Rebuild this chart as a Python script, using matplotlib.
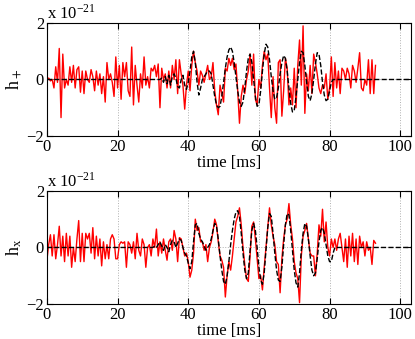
import numpy as np
import matplotlib
matplotlib.use('Agg')
import matplotlib.pyplot as plt

# sampling step of the traces, in ms
dt = 0.5

# noisy strain, h+ (units of 1e-21), from t = 0 ms
hp_noisy = [
    0.0, 0.05, -0.05, 0.0, -0.3, 0.45, -0.1, 1.1, -1.35, 0.9,
    -0.3, 0.0, -0.2, 0.45, -0.1, 0.5, -0.3, 0.35, 0.45, -0.45,
    0.3, -0.5, 0.3, 0.0, -0.1, 0.35, 0.1, -0.4, 0.3, -0.2,
    0.2, -0.5, 0.1, -0.8, 0.6, 0.0, 0.2, -0.1, -0.6, 0.8,
    -0.3, 0.5, -0.7, 0.6, 0.1, 0.6, -0.4, -0.6, 1.15, -0.9,
    0.5, -0.2, -0.8, 0.2, -0.3, 0.8, -0.2, 0.1, -0.3, 0.4,
    0.3, 0.5, 0.1, 0.55, -1.0, 0.4, 0.0, 0.2, -0.3, 0.3,
    -0.3, 0.5, 0.0, 0.7, -0.5, 0.7, 0.2, -0.2, -1.05, -0.2,
    0.3, -0.4, 0.5, 1.0, 0.6, 0.3, -0.2, 0.3, 0.15, -0.1,
    0.2, 0.5, 0.0, 0.1, 0.6, -0.4, -0.9, -1.25, -0.2, -0.5,
    -0.8, 0.4, 0.3, 0.75, 0.5, 0.75, 0.35, 0.55, -0.4, -1.55,
    -0.6, -0.2, -0.5, 0.0, 0.3, 0.9, -0.2, 0.9, -0.7, -0.9,
    0.0, -0.3, 0.5, 1.0, 0.7, 0.9, -0.3, -1.35, 0.1, -1.0,
    -1.55, 0.6, 0.7, -1.3, -0.4, 0.75, 0.4, -0.9, -0.3, -0.9,
    0.4, -1.0, 0.5, 1.4, -0.2, 1.9, -1.2, 0.2, -0.4, 0.5,
    -0.5, 0.9, 0.6, 0.2, -0.3, -0.5, -0.2, -0.3, 0.2, -0.7,
    -0.3, 0.8, -0.6, 0.6, -0.3, 0.3, -0.5, 0.4, 0.3, 0.0,
    0.4, 0.2, -0.3, 0.5, 0.3, -0.1, 0.4, 0.95, -0.3, -0.4,
    0.0, -0.2, 0.7, -0.5, 0.7, -0.5, 0.5,
]

# noisy strain, hx
hx_noisy = [
    -0.45, 0.1, 0.45, -0.3, 0.45, -0.4, 0.1, 0.75, -0.3, 0.4,
    -0.5, 0.5, -0.3, 0.4, -0.7, 0.0, -0.5, 0.3, 0.95, -0.5,
    0.5, -0.5, 0.5, 0.3, 0.5, -0.2, 0.7, -0.4, 0.4, -0.3,
    0.3, -0.65, 0.2, -0.4, 0.1, -0.4, 0.3, 0.45, 0.3, -0.4,
    -0.4, 0.1, 0.2, 0.15, 0.2, -0.7, 0.2, 0.1, -0.2, 0.2,
    -0.4, 0.5, -0.1, -0.3, 0.3, 0.1, -0.7, 0.0, 0.1, -0.3,
    0.3, 0.0, 0.65, -0.3, 0.2, -0.2, 0.3, -0.1, -0.45, 0.2,
    0.3, -0.1, 0.6, 0.3, -0.5, 0.35, 0.3, 0.0, -0.3, -0.2,
    -0.5, -1.05, -0.8, -0.2, 1.0, 0.6, 0.7, 0.2, 0.2, -0.1,
    0.1, -0.5, 0.0, 0.2, 0.55, 1.0, 0.8, 0.2, -0.3, -0.45,
    -0.7, -1.75, -1.0, -0.5, -0.8, -0.3, 0.3, 0.9, 1.1, 1.4,
    0.8, 0.0, -0.6, -1.1, -1.2, -0.3, 0.75, 0.9, 0.3, -0.4,
    -1.1, -1.0, -1.5, -0.7, 0.0, 0.7, 1.4, 0.8, 0.4, 0.1,
    -0.5, -0.6, -1.6, -0.4, 0.3, 0.8, 1.0, 1.55, 0.8, 0.3,
    -0.5, -0.9, -1.1, -1.95, -0.3, 0.4, 0.6, 0.85, 0.3, -0.2,
    -0.3, -0.3, -1.0, -0.2, 0.8, 0.4, 1.35, 0.2, 0.9, 0.0,
    -0.3, 0.3, 0.0, 0.3, -0.1, 0.3, 0.5, 0.0, -0.5, 0.3,
    -0.7, 0.4, -0.3, 0.5, -0.5, 0.3, -0.6, 0.4, 0.0, 0.2,
    -0.3, 0.2, -0.1, 0.0, -0.6, 0.25, 0.15,
]

# injected waveforms (dashed), zero outside [start, start + len*dt]
hp_sig_start = 32.0
hp_signal = [
    0.0, 0.05, -0.1, 0.1, -0.15, 0.15, -0.2, 0.1, 0.2, 0.05,
    -0.25, -0.3, 0.0, 0.15, -0.2, -0.35, -0.1, 0.3, 0.8, 1.0,
    0.6, -0.1, -0.55, -0.3, 0.0, 0.1, 0.2, 0.3, 0.3, 0.2,
    -0.2, -0.6, -0.9, -1.0, -0.95, -0.6, -0.1, 0.4, 0.8, 1.05,
    1.15, 1.0, 0.6, 0.1, -0.4, -0.8, -0.95, -0.8, -0.3, 0.3,
    0.75, 0.9, 0.6, 0.0, -0.6, -0.95, -0.9, -0.4, 0.3, 0.9,
    1.25, 1.15, 0.7, 0.1, -0.4, -0.7, -0.65, -0.3, 0.2, 0.6,
    0.85, 0.75, 0.3, -0.3, -0.85, -1.15, -1.1, -0.6, 0.0, 0.6,
    1.0, 0.95, 0.5, -0.1, -0.6, -0.75, -0.5, 0.0, 0.55, 0.95,
    0.9, 0.5, -0.1, -0.55, -0.75, -0.7, -0.4, -0.1, 0.0, 0.0,
    0.0,
]
hx_sig_start = 30.0
hx_signal = [
    0.0, 0.05, 0.0, 0.1, 0.2, 0.05, -0.1, 0.1, 0.0, -0.15,
    0.1, 0.25, 0.2, 0.0, 0.15, 0.3, 0.25, 0.0, -0.2, -0.3,
    -0.55, -0.75, -0.5, 0.2, 0.8, 0.85, 0.5, 0.3, 0.2, 0.05,
    -0.1, 0.0, 0.1, 0.3, 0.6, 0.85, 0.75, 0.3, -0.3, -0.8,
    -1.2, -1.3, -1.0, -0.5, 0.1, 0.6, 1.0, 1.25, 1.3, 1.1,
    0.5, -0.2, -0.8, -1.1, -0.9, -0.1, 0.6, 0.85, 0.6, 0.0,
    -0.7, -1.15, -1.3, -0.9, -0.1, 0.7, 1.2, 1.1, 0.5, -0.2,
    -0.8, -1.15, -1.2, -0.7, 0.1, 0.8, 1.2, 1.15, 0.6, -0.1,
    -0.8, -1.25, -1.4, -0.9, -0.1, 0.5, 0.85, 0.75, 0.3, -0.3,
    -0.8, -1.0, -0.9, -0.4, 0.2, 0.6, 0.7, 0.5, 0.1, -0.3,
    -0.5, -0.5, -0.2, 0.0, 0.0,
]

xticks = [0, 20, 40, 60, 80, 100]
yticks = [-2, 0, 2]
t_max = 103.0

plt.rcParams['font.family'] = ['Liberation Serif', 'DejaVu Serif']
plt.rcParams['mathtext.fontset'] = 'stix'
plt.rcParams['font.size'] = 12


def draw(ax, noisy, sig_start, signal, ylab):
    t = np.arange(len(noisy)) * dt
    ts = np.concatenate([[0.0], sig_start + np.arange(len(signal)) * dt, [t_max + 1]])
    vs = np.concatenate([[0.0], signal, [0.0]])
    ax.plot(t, noisy, color='red', lw=1.0)
    ax.plot(ts, vs, color='black', ls='--', lw=1.0)
    ax.set_xlim(0, t_max)
    ax.set_ylim(-2, 2)
    ax.set_xticks(xticks)
    ax.set_yticks(yticks)
    ax.set_yticklabels(['\u22122', '0', '2'])
    ax.grid(True, color='#b0b0b0', ls=':', lw=0.7)
    ax.tick_params(direction='in', top=True, right=True, length=4, pad=2)
    for s in ax.spines.values():
        s.set_linewidth(0.8)
    ax.set_xlabel('time [ms]', labelpad=0)
    ax.set_ylabel(ylab, labelpad=2, fontsize=13)
    ax.text(0.0, 1.0, r'x 10$^{\mathregular{-21}}$', transform=ax.transAxes,
            ha='left', va='bottom', fontsize=12)


fig = plt.figure(figsize=(4.15, 3.39), dpi=100)
ax1 = fig.add_axes([0.113, 0.599, 0.877, 0.333])
ax2 = fig.add_axes([0.113, 0.103, 0.877, 0.334])

draw(ax1, hp_noisy, hp_sig_start, hp_signal, r'h$_+$')
draw(ax2, hx_noisy, hx_sig_start, hx_signal, r'h$_\mathregular{x}$')

fig.savefig('out.png', dpi=100)
